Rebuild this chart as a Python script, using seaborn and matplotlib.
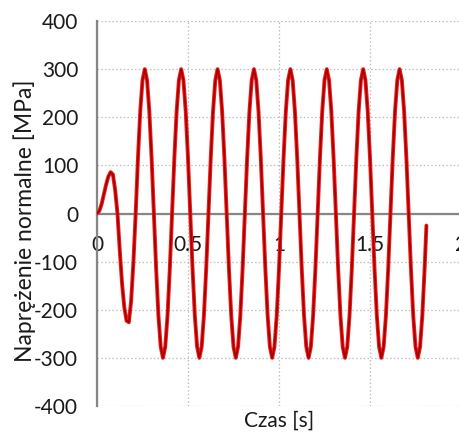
import matplotlib
matplotlib.use("Agg")
import matplotlib.pyplot as plt
from matplotlib.ticker import MultipleLocator
import pandas as pd
import seaborn as sns

# ---- data ----
time_s = [
    0.0, 0.0125, 0.025, 0.0375, 0.05, 0.0625, 0.075, 0.0875,
    0.1, 0.1125, 0.125, 0.1375, 0.15, 0.1625, 0.175, 0.1875,
    0.2, 0.2125, 0.225, 0.2375, 0.25, 0.2625, 0.275, 0.2875,
    0.3, 0.3125, 0.325, 0.3375, 0.35, 0.3625, 0.375, 0.3875,
    0.4, 0.4125, 0.425, 0.4375, 0.45, 0.4625, 0.475, 0.4875,
    0.5, 0.5125, 0.525, 0.5375, 0.55, 0.5625, 0.575, 0.5875,
    0.6, 0.6125, 0.625, 0.6375, 0.65, 0.6625, 0.675, 0.6875,
    0.7, 0.7125, 0.725, 0.7375, 0.75, 0.7625, 0.775, 0.7875,
    0.8, 0.8125, 0.825, 0.8375, 0.85, 0.8625, 0.875, 0.8875,
    0.9, 0.9125, 0.925, 0.9375, 0.95, 0.9625, 0.975, 0.9875,
    1.0, 1.0125, 1.025, 1.0375, 1.05, 1.0625, 1.075, 1.0875,
    1.1, 1.1125, 1.125, 1.1375, 1.15, 1.1625, 1.175, 1.1875,
    1.2, 1.2125, 1.225, 1.2375, 1.25, 1.2625, 1.275, 1.2875,
    1.3, 1.3125, 1.325, 1.3375, 1.35, 1.3625, 1.375, 1.3875,
    1.4, 1.4125, 1.425, 1.4375, 1.45, 1.4625, 1.475, 1.4875,
    1.5, 1.5125, 1.525, 1.5375, 1.55, 1.5625, 1.575, 1.5875,
    1.6, 1.6125, 1.625, 1.6375, 1.65, 1.6625, 1.675, 1.6875,
    1.7, 1.7125, 1.725, 1.7375, 1.75, 1.7625, 1.775, 1.7875,
    1.8, 1.81,
]
stress_mpa = [
    0, 5, 19, 39, 60, 77, 86, 81,
    48, 0, -76, -145, -195, -223, -226, -182,
    -102, 0, 115, 212, 277, 300, 277, 212,
    115, 0, -115, -212, -277, -300, -277, -212,
    -115, 0, 115, 212, 277, 300, 277, 212,
    115, 0, -115, -212, -277, -300, -277, -212,
    -115, 0, 115, 212, 277, 300, 277, 212,
    115, 0, -115, -212, -277, -300, -277, -212,
    -115, 0, 115, 212, 277, 300, 277, 212,
    115, 0, -115, -212, -277, -300, -277, -212,
    -115, 0, 115, 212, 277, 300, 277, 212,
    115, 0, -115, -212, -277, -300, -277, -212,
    -115, 0, 115, 212, 277, 300, 277, 212,
    115, 0, -115, -212, -277, -300, -277, -212,
    -115, 0, 115, 212, 277, 300, 277, 212,
    115, 0, -115, -212, -277, -300, -277, -212,
    -115, 0, 115, 212, 277, 300, 277, 212,
    115, 0, -115, -212, -277, -300, -277, -212,
    -115, -25,
]
x_ticks = [0, 0.5, 1, 1.5, 2]
x_tick_labels = ["0", "0.5", "1", "1.5", "2"]
y_ticks = [-400, -300, -200, -100, 0, 100, 200, 300, 400]
y_tick_labels = ["-400", "-300", "-200", "-100", "0", "100", "200", "300", "400"]
x_label = "Czas [s]"
y_label = "Naprężenie normalne [MPa]"

sns.set_style("white")
plt.rcParams["font.family"] = ["Lato", "DejaVu Sans"]

axis_gray = "#868686"
grid_gray = "#BDBDBD"

fig = plt.figure(figsize=(4.6, 4.33), dpi=100)
ax = fig.add_axes([97 / 460, 27 / 433, (461 - 97) / 460, (412 - 27) / 433])

df = pd.DataFrame({"t": time_s, "s": stress_mpa})
sns.lineplot(data=df, x="t", y="s", ax=ax, sort=False, color="#EE1C1C",
             linewidth=2.8, zorder=3, estimator=None)
sns.lineplot(data=df, x="t", y="s", ax=ax, sort=False, color="#A80000",
             linewidth=1.3, zorder=4, estimator=None)

ax.set_xlim(0, 2)
ax.set_ylim(-400, 400)
ax.set_xticks(x_ticks, x_tick_labels)
ax.set_yticks(y_ticks, y_tick_labels)
ax.xaxis.set_minor_locator(MultipleLocator(0.1))
ax.yaxis.set_minor_locator(MultipleLocator(20))

ax.grid(True, which="major", color=grid_gray, linestyle=(0, (1.2, 1.8)),
        linewidth=0.9)
ax.set_axisbelow(True)

for side in ("top", "right"):
    ax.spines[side].set_visible(False)
ax.spines["bottom"].set_position(("data", 0))
for side in ("left", "bottom"):
    ax.spines[side].set_color(axis_gray)
    ax.spines[side].set_linewidth(1.6)
    ax.spines[side].set_zorder(2.5)

ax.tick_params(which="both", direction="out", color=axis_gray, width=1.2,
               labelcolor="#1a1a1a")
ax.tick_params(which="major", length=4.5)
ax.tick_params(which="minor", length=3.5)
ax.tick_params(axis="y", which="major", labelsize=15, pad=9)
ax.tick_params(axis="x", which="major", labelsize=15, pad=11)

ax.set_xlabel(x_label, fontsize=15, color="#1a1a1a")
ax.xaxis.set_label_coords(0.5, -0.039)
ax.xaxis.label.set_verticalalignment("center")
ax.set_ylabel(y_label, fontsize=16.5, color="#1a1a1a")
ax.yaxis.set_label_coords(-0.2, 0.48)
ax.yaxis.label.set_verticalalignment("center")

fig.savefig("out.png", dpi=100)
